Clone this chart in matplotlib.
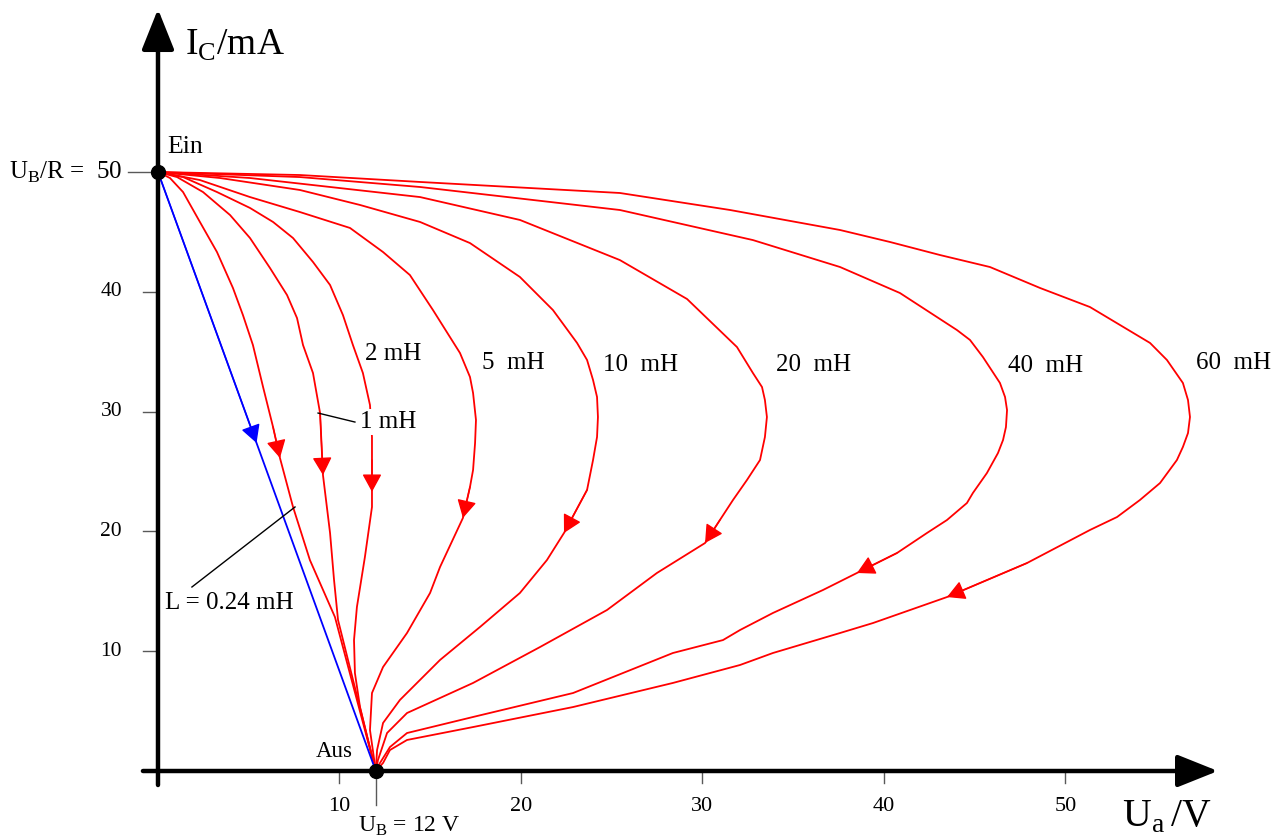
import matplotlib
matplotlib.use("Agg")
import matplotlib.pyplot as plt
import numpy as np

plt.rcParams['font.family'] = ['Liberation Serif', 'DejaVu Serif']
plt.rcParams['mathtext.fontset'] = 'custom'
plt.rcParams['mathtext.rm'] = 'Liberation Serif'

# switching curves U_a (V) vs I_C (mA)
u_024 = [0, 0.66, 1.38, 2.31, 3.25, 4.13, 4.68, 5.23, 5.79, 6.34, 6.72, 7.44, 8.37, 9.75, 12.0]
i_024 = [50, 49.50, 48.33, 45.83, 43.32, 40.32, 38.06, 35.56, 32.05, 28.71, 26.13, 22.04, 17.61, 12.85, 0]

u_1 = [0, 1.05, 2.48, 3.97, 5.07, 6.17, 7.11, 7.66, 7.99, 8.54, 8.93, 9.09, 9.48, 9.70, 9.92, 12.0]
i_1 = [50, 49.58, 48.33, 46.41, 44.49, 41.99, 39.73, 37.81, 35.56, 33.22, 29.88, 24.7, 19.87, 15.94, 12.60, 0]

u_2 = [0, 1.38, 3.25, 5.07, 6.34, 7.44, 8.54, 9.48, 10.19, 10.74, 11.29, 11.68, 11.79, 11.79, 11.79,
       11.79, 11.40, 10.96, 10.80, 10.85, 11.13, 11.57, 12.0]
i_2 = [50, 49.58, 48.33, 47.0, 45.83, 44.49, 42.49, 40.57, 38.06, 35.56, 33.22, 30.55, 27.88, 25.96, 23.3,
       22.04, 17.86, 13.69, 10.93, 8.18, 5.34, 2.59, 0]

u_5 = [0, 2.31, 5.07, 7.82, 10.58, 12.40, 13.88, 15.15, 16.64, 17.19, 17.36, 17.52, 17.47, 17.36, 17.19,
       16.80, 15.54, 14.99, 13.72, 12.40, 11.79, 11.68, 12.0]
i_5 = [50, 49.33, 47.91, 46.66, 45.33, 43.32, 41.40, 38.48, 34.89, 32.89, 31.55, 29.30, 27.38, 25.13, 23.71,
       21.12, 17.03, 14.86, 11.52, 8.68, 6.51, 3.42, 0]

u_10 = [0, 3.42, 7.82, 11.13, 14.44, 17.19, 19.94, 21.76, 23.09, 23.64, 23.97, 24.19, 24.24, 24.19, 23.97,
        23.64, 22.37, 21.43, 19.94, 17.74, 15.54, 13.33, 12.40, 12.07, 12.0]
i_10 = [50, 49.50, 48.50, 47.25, 45.83, 44.07, 41.24, 38.48, 35.73, 34.31, 32.64, 31.22, 29.55, 27.88, 25.96,
        23.46, 19.87, 17.61, 14.86, 12.02, 9.27, 5.93, 4.01, 1.75, 0]

u_20 = [0, 5.07, 14.44, 19.94, 25.45, 29.15, 31.90, 32.78, 33.28, 33.44, 33.55, 33.44, 33.17, 32.45, 31.68,
        30.96, 30.14, 27.49, 24.74, 21.05, 17.36, 13.72, 12.62, 12.12, 12.0]
i_20 = [50, 49.50, 47.91, 46.0, 42.65, 39.40, 35.39, 33.22, 32.05, 30.97, 29.55, 27.88, 25.96, 24.29, 22.62,
        20.95, 19.03, 16.53, 13.44, 10.35, 7.35, 4.84, 3.17, 0.92, 0]

u_40 = [0, 7.82, 14.44, 25.45, 32.78, 37.58, 40.88, 44.02, 44.74, 45.45, 46.39, 46.67, 46.78, 46.72, 46.56,
        46.28, 45.67, 44.90, 44.57, 43.47, 42.37, 40.72, 38.51, 36.64, 33.88, 32.07, 31.13, 28.37, 22.87,
        17.36, 13.72, 12.78, 12.23, 12.0]
i_40 = [50, 49.58, 48.75, 46.83, 44.32, 42.07, 39.90, 36.81, 35.98, 34.56, 32.39, 31.22, 30.13, 28.71, 27.63,
        26.54, 24.87, 23.21, 22.37, 20.95, 19.87, 18.20, 16.53, 15.11, 13.19, 11.77, 10.93, 9.85, 6.51,
        4.51, 3.17, 2.00, 0.67, 0]

u_60 = [0, 7.82, 14.44, 25.45, 31.52, 37.58, 40.33, 43.09, 45.84, 48.60, 51.35, 54.66, 55.59, 56.47, 56.75,
        56.86, 56.75, 56.47, 56.14, 55.21, 54.10, 52.84, 51.35, 47.88, 43.47, 39.39, 37.58, 33.88, 32.07,
        28.37, 22.87, 17.36, 13.72, 12.78, 12.40, 12.0]
i_60 = [50, 49.75, 49.17, 48.25, 46.83, 45.16, 44.16, 43.07, 42.07, 40.32, 38.73, 35.73, 34.31, 32.39, 30.97,
        29.55, 28.21, 27.05, 25.96, 24.04, 22.62, 21.20, 20.12, 17.36, 14.52, 12.35, 11.52, 9.85, 8.85,
        7.35, 5.34, 3.67, 2.59, 1.75, 0.67, 0]

curves_u = [u_024, u_1, u_2, u_5, u_10, u_20, u_40, u_60]
curves_i = [i_024, i_1, i_2, i_5, i_10, i_20, i_40, i_60]

# where the direction arrows sit on each curve
arrow_u = [6.72, 9.09, 11.79, 16.80, 22.37, 30.14, 38.51, 43.47]
arrow_i = [26.13, 24.7, 23.3, 21.12, 19.87, 19.03, 16.53, 14.52]

# resistive load line (blue)
blue_u = [0, 5.43, 12]
blue_i = [50, 27.38, 0]

x_ticks = [10, 20, 30, 40, 50]
y_ticks = [10, 20, 30, 40]
U_B = 12
I_max = 50

fig = plt.figure(figsize=(12.84, 8.39), dpi=100)
ax = fig.add_axes([0, 0, 1, 1])
ax.set_xlim(-8.705, 62.04)
ax.set_ylim(-5.676, 64.36)
ax.axis('off')

head = '-|>,head_length=1.1,head_width=0.6'


def arrow_on(u, i, tu, ti, color):
    u = np.asarray(u)
    i = np.asarray(i)
    k = int(np.argmin((u - tu) ** 2 + (i - ti) ** 2))
    ax.annotate('', xy=(u[k], i[k]), xytext=(u[k - 1], i[k - 1]),
                arrowprops=dict(arrowstyle=head, color=color, lw=1.0,
                                shrinkA=0, shrinkB=0, mutation_scale=10), zorder=2)


for u, i, tu, ti in zip(curves_u, curves_i, arrow_u, arrow_i):
    ax.plot(u, i, color='red', lw=1.3, zorder=2, solid_joinstyle='round')
    arrow_on(u, i, tu, ti, 'red')

ax.plot(blue_u, blue_i, color='blue', lw=1.3, zorder=2)
arrow_on(blue_u, blue_i, blue_u[1], blue_i[1], 'blue')

# axes with arrow heads
axis_head = '-|>,head_length=2.5,head_width=1.0'
ax.annotate('', xy=(58.4, 0), xytext=(-0.83, 0),
            arrowprops=dict(arrowstyle=axis_head, color='black', lw=3.2,
                            shrinkA=0, shrinkB=0, mutation_scale=10), zorder=3)
ax.annotate('', xy=(0, 63.6), xytext=(0, -1.17),
            arrowprops=dict(arrowstyle=axis_head, color='black', lw=3.2,
                            shrinkA=0, shrinkB=0, mutation_scale=10), zorder=3)

# ticks
for t in x_ticks:
    ax.plot([t, t], [0, -1.0], color='0.35', lw=1.0, zorder=1)
    ax.text(t, -2.95, str(t), ha='center', va='center', fontsize=16)
ax.plot([U_B, U_B], [0, -2.8], color='0.35', lw=1.0, zorder=1)
for t in y_ticks:
    ax.plot([-0.83, 0], [t, t], color='0.35', lw=1.0, zorder=1)
    ax.text(-1.98, t, str(t), ha='right', va='center', fontsize=15.5)
ax.plot([-1.65, 0], [I_max, I_max], color='0.35', lw=1.0, zorder=1)

# Ein / Aus points
ax.plot([0, U_B], [I_max, 0], 'o', color='black', ms=10, zorder=4)

ax.text(0.5, 52.1, 'Ein', ha='left', va='center', fontsize=18.5)
ax.text(10.75, 1.6, 'Aus', ha='right', va='center', fontsize=16.5)
ax.text(-1.98, I_max, r'U$_\mathrm{B}$/R =  50', ha='right', va='center', fontsize=18)
ax.text(11.0, -4.6, r'U$_\mathrm{B}$ = 12 V', ha='left', va='center', fontsize=17)
ax.text(1.49, 60.6, r'I$_\mathrm{C}$/mA', ha='left', va='center', fontsize=27)
ax.text(53.1, -3.84, r'U$_\mathrm{a}\,$/V', ha='left', va='center', fontsize=28.5)

# curve labels
ax.text(11.40, 34.81, '2 mH', ha='left', va='center', fontsize=18)
ax.text(11.13, 29.13, '1 mH', ha='left', va='center', fontsize=18, zorder=5,
        bbox=dict(facecolor='white', edgecolor='none', pad=1.5))
ax.text(17.85, 34.06, '5  mH', ha='left', va='center', fontsize=18)
ax.text(24.52, 33.89, '10  mH', ha='left', va='center', fontsize=18)
ax.text(34.05, 33.89, '20  mH', ha='left', va='center', fontsize=18)
ax.text(46.83, 33.81, '40  mH', ha='left', va='center', fontsize=18)
ax.text(57.19, 34.06, '60  mH', ha='left', va='center', fontsize=18)
ax.text(0.39, 14.02, 'L = 0.24 mH', ha='left', va='center', fontsize=18)

# leader lines
ax.plot([1.87, 7.55], [15.36, 22.04], color='black', lw=1.0, zorder=3)
ax.plot([8.82, 10.85], [29.88, 29.13], color='black', lw=1.0, zorder=3)

fig.savefig('out.png', dpi=100)
